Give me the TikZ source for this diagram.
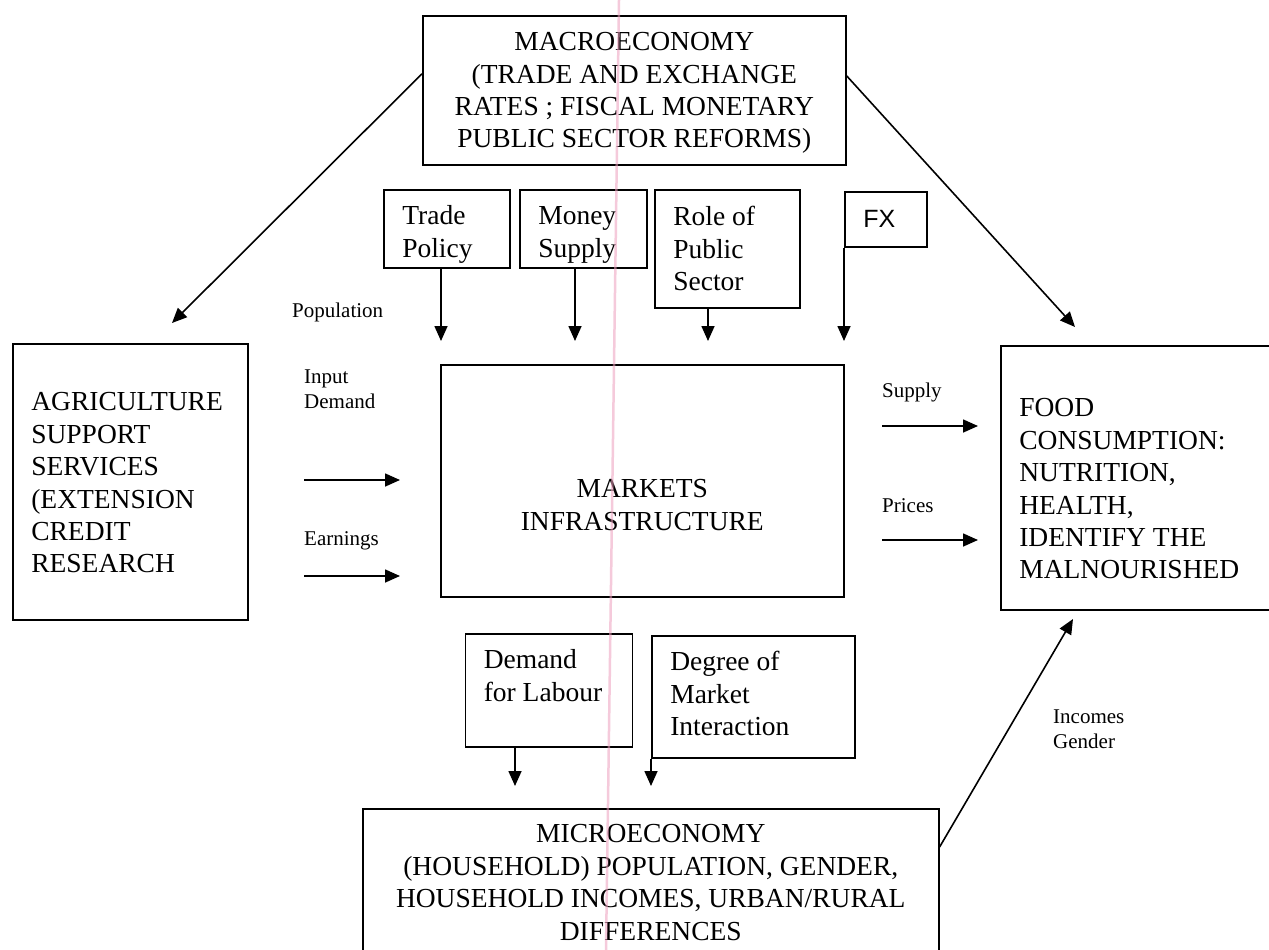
\documentclass[tikz,border=0pt]{standalone}
\usepackage{fontspec}
\setmainfont{Liberation Serif}
\newfontfamily\fxfont{Liberation Sans}
\usetikzlibrary{arrows.meta}
\newcommand{\bigtxt}{\fontsize{27.5}{32.4}\selectfont}
\newcommand{\smalltxt}{\fontsize{21}{25}\selectfont}
\newcommand{\up}[1]{\rule{0pt}{#1}}
\newcommand{\dn}[1]{\rule[-#1]{0pt}{#1}}
\definecolor{scanpink}{RGB}{238,160,190}

\begin{document}
\begin{tikzpicture}[
    x=1pt, y=-1pt,
    box/.style = {draw, line width=1.6pt, anchor=north west, inner xsep=18.5pt, inner ysep=0pt, font=\bigtxt, align=flush left},
    cbox/.style = {box, inner xsep=10pt, align=flush center},
    lbl/.style = {anchor=north west, inner sep=0pt, font=\smalltxt, align=flush left},
    arr/.style = {line width=1.6pt, -{Triangle[length=15pt,width=13pt]}}
]
\useasboundingbox (0,0) rectangle (1269,950);
\clip (0,0) rectangle (1269,950);
\fill[white] (0,0) rectangle (1269,950);

\node[cbox, minimum width=423pt, minimum height=149pt, text width=403pt] (macro) at (422,15) {\up{26.2pt}MACROECONOMY\\(TRADE AND EXCHANGE\\RATES ; FISCAL MONETARY\\PUBLIC SECTOR REFORMS)\dn{8pt}};

\node[box, minimum width=126pt, minimum height=78pt, text width=89pt] (trade) at (383,189) {\up{32.4pt}Trade\\Policy\dn{8pt}};
\node[box, minimum width=127pt, minimum height=78pt, text width=90pt] (money) at (519,189) {\up{32.4pt}Money\\Supply\dn{8pt}};
\node[box, minimum width=145pt, minimum height=118pt, text width=108pt] (role) at (654,189) {\up{26.8pt}Role of\\Public\\Sector\dn{8pt}};
\node[box, minimum width=82pt, minimum height=55pt, text width=45pt, font={\fxfont\fontsize{25}{30}\selectfont}] (fx) at (844,191) {\up{24.4pt}FX\dn{8pt}};

\node[box, minimum width=235pt, minimum height=276pt, text width=198pt] (agri) at (12,343) {\up{28pt}AGRICULTURE\\SUPPORT\\SERVICES\\(EXTENSION\\CREDIT\\RESEARCH\dn{8pt}};
\node[cbox, minimum width=403pt, minimum height=232pt, text width=383pt] (markets) at (440,364) {\up{74.4pt}MARKETS\\INFRASTRUCTURE\dn{8pt}};
\node[box, minimum width=275pt, minimum height=264pt, text width=238pt] (food) at (1000,345) {\up{48pt}FOOD\\CONSUMPTION:\\NUTRITION,\\HEALTH,\\IDENTIFY THE\\MALNOURISHED\dn{8pt}};

\node[box, minimum width=167pt, minimum height=113pt, text width=130pt] (demand) at (464.5,633) {\up{20pt}Demand\\for Labour\dn{30.6pt}};
\node[box, minimum width=203pt, minimum height=122pt, text width=166pt] (degree) at (651,635) {\up{20.8pt}Degree of\\Market\\Interaction\dn{8pt}};
\node[cbox, minimum width=576pt, minimum height=152pt, text width=556pt] (micro) at (362,808) {\up{21.2pt}MICROECONOMY\\(HOUSEHOLD) POPULATION, GENDER,\\HOUSEHOLD INCOMES, URBAN/RURAL\\DIFFERENCES\dn{8pt}};

\node[lbl] (pop) at (292,301) {\up{16pt}Population};
\node[lbl] (inp) at (304,367) {\up{16pt}Input\\Demand};
\node[lbl] (earn) at (304,529) {\up{16pt}Earnings};
\node[lbl] (sup) at (882,381) {\up{16pt}Supply};
\node[lbl] (pri) at (882,496) {\up{16pt}Prices};
\node[lbl] (inc) at (1053,707) {\up{16pt}Incomes\\Gender};

\coordinate (agritip) at (172,323);
\coordinate (foodtip) at (1075,327);
\coordinate (tradetip) at (441,341);
\coordinate (moneytip) at (575,341);
\coordinate (roletip) at (708,341);
\coordinate (fxtip) at (844,341);
\coordinate (inA) at (304,480);
\coordinate (inB) at (400,480);
\coordinate (earnA) at (304,576);
\coordinate (earnB) at (400,576);
\coordinate (supA) at (882,426);
\coordinate (supB) at (978,426);
\coordinate (priA) at (882,540);
\coordinate (priB) at (978,540);
\coordinate (labtip) at (515,786);
\coordinate (inttip) at (651,786);
\coordinate (foodin) at (1073,619);

\draw[arr] ([yshift=16.5pt]macro.west) -- (agritip);
\draw[arr] ([yshift=14.5pt]macro.east) -- (foodtip);
\draw[arr] (trade.south -| tradetip) -- (tradetip);
\draw[arr] (money.south -| moneytip) -- (moneytip);
\draw[arr] (role.south -| roletip) -- (roletip);
\draw[arr] (fx.south west) -- (fxtip);
\draw[arr] (inA) -- (inB);
\draw[arr] (earnA) -- (earnB);
\draw[arr] (supA) -- (supB);
\draw[arr] (priA) -- (priB);
\draw[arr] (demand.south -| labtip) -- (labtip);
\draw[arr] (degree.south west) -- (inttip);
\draw[arr] ([yshift=-39pt]micro.north east) -- (foodin);

\draw[scanpink, line width=2.5pt, opacity=0.55] (619,0) -- (606,950);

\end{tikzpicture}
\end{document}
